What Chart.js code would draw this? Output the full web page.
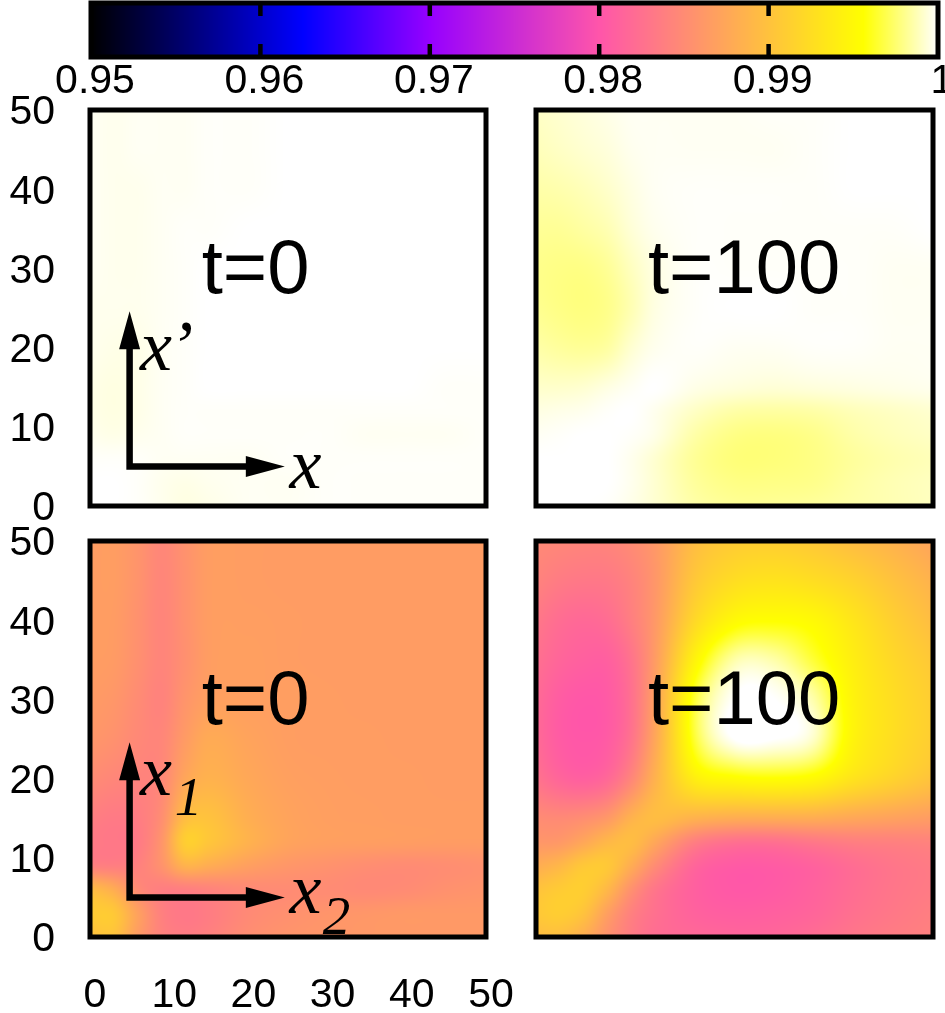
<!DOCTYPE html>
<html lang="en">
<head>
<meta charset="UTF-8">
<title>Fidelity maps at t=0 and t=100</title>
<script src="https://cdn.jsdelivr.net/npm/chart.js"></script>
<style>
    html, body { margin: 0; padding: 0; background: #fff; overflow: hidden; }
    body { width: 945px; height: 1013px; position: relative; }
    canvas { position: absolute; }
</style>
</head>
<body>
<canvas id="colorbar"></canvas>
<canvas id="panelTopLeft"></canvas>
<canvas id="panelTopRight"></canvas>
<canvas id="panelBottomLeft"></canvas>
<canvas id="panelBottomRight"></canvas>
<script>
// colour scale
const paletteValues = [0.95, 0.9625, 0.97, 0.98, 0.9956, 1];
const paletteColors = [[0, 0, 0], [0, 0, 255], [150, 0, 255], [255, 85, 170], [255, 255, 0], [255, 255, 255]];
const colorbarTicks = [0.95, 0.96, 0.97, 0.98, 0.99, 1];
const colorbarLabels = ['0.95', '0.96', '0.97', '0.98', '0.99', '1'];

// axes of the maps
const axisTicks = [0, 10, 20, 30, 40, 50];
const gridColumns = [0, 3, 6, 9, 12, 15, 20, 25, 30, 35, 40, 45, 50];
const gridRows = [50, 45, 40, 35, 30, 25, 20, 15, 12, 9, 6, 3, 0];

// values, one row per gridRows entry
const topT0 = [
    [0.9998, 0.9997, 0.9998, 0.9998, 0.9998, 0.9999, 0.9999, 1, 1, 1, 1, 1, 1],
    [0.9998, 0.9997, 0.9998, 0.9998, 0.9998, 0.9999, 0.9999, 1, 1, 1, 1, 1, 1],
    [0.9998, 0.9997, 0.9997, 0.9998, 0.9998, 0.9999, 0.9999, 1, 1, 1, 1, 1, 1],
    [0.9998, 0.9997, 0.9997, 0.9998, 0.9999, 0.9999, 1, 1, 1, 1, 1, 1, 1],
    [0.9998, 0.9997, 0.9997, 0.9998, 0.9999, 1, 1, 1, 1, 1, 1, 1, 1],
    [0.9997, 0.9997, 0.9997, 0.9998, 0.9999, 1, 1, 1, 1, 1, 1, 1, 1],
    [0.9997, 0.9996, 0.9996, 0.9998, 0.9999, 1, 1, 1, 1, 1, 1, 1, 1],
    [0.9996, 0.9995, 0.9996, 0.9998, 0.9999, 1, 1, 1, 1, 1, 1, 0.9999, 0.9999],
    [0.9996, 0.9995, 0.9996, 0.9998, 0.9999, 0.9999, 0.9999, 0.9999, 0.9999, 0.9999, 0.9999, 0.9999, 0.9999],
    [0.9997, 0.9996, 0.9997, 0.9998, 0.9999, 0.9999, 0.9999, 0.9999, 0.9999, 0.9998, 0.9998, 0.9998, 0.9999],
    [0.9999, 0.9999, 0.9999, 0.9998, 0.9998, 0.9998, 0.9998, 0.9999, 0.9999, 0.9999, 0.9999, 0.9999, 0.9999],
    [1, 1, 0.9999, 0.9997, 0.9996, 0.9997, 0.9998, 0.9998, 0.9999, 0.9999, 0.9999, 0.9999, 0.9999],
    [1, 1, 0.9999, 0.9997, 0.9995, 0.9996, 0.9998, 0.9998, 0.9999, 0.9999, 0.9999, 0.9999, 0.9999]
];
const topT100 = [
    [0.9990, 0.9992, 0.9994, 0.9996, 0.9998, 0.9998, 0.9998, 0.9998, 0.9999, 0.9999, 1, 1, 1],
    [0.9988, 0.9990, 0.9992, 0.9994, 0.9997, 0.9998, 0.9998, 0.9998, 0.9998, 0.9999, 1, 1, 1],
    [0.9985, 0.9986, 0.9988, 0.9991, 0.9995, 0.9998, 0.9999, 0.9999, 0.9999, 0.9999, 1, 1, 1],
    [0.9982, 0.9982, 0.9984, 0.9987, 0.9993, 0.9997, 0.9999, 0.9999, 0.9999, 0.9999, 0.9999, 0.9999, 1],
    [0.9980, 0.9979, 0.9979, 0.9982, 0.9989, 0.9995, 0.9999, 0.9999, 0.9999, 0.9999, 0.9999, 0.9998, 0.9998],
    [0.9981, 0.9979, 0.9978, 0.9980, 0.9987, 0.9995, 0.9999, 1, 1, 0.9999, 0.9999, 0.9998, 0.9998],
    [0.9985, 0.9983, 0.9982, 0.9984, 0.9992, 0.9997, 0.9999, 0.9998, 0.9998, 0.9999, 0.9999, 0.9998, 0.9998],
    [0.9991, 0.9991, 0.9992, 0.9995, 0.9998, 1, 0.9996, 0.9994, 0.9993, 0.9994, 0.9995, 0.9996, 0.9997],
    [0.9995, 0.9996, 0.9997, 0.9999, 1, 0.9997, 0.9990, 0.9985, 0.9984, 0.9985, 0.9988, 0.9990, 0.9992],
    [0.9998, 0.9999, 1, 1, 0.9999, 0.9996, 0.9985, 0.9979, 0.9978, 0.9980, 0.9985, 0.9988, 0.9990],
    [1, 1, 1, 1, 0.9997, 0.9992, 0.9982, 0.9977, 0.9977, 0.9979, 0.9983, 0.9986, 0.9988],
    [1, 1, 1, 1, 0.9997, 0.9992, 0.9983, 0.9979, 0.9979, 0.9980, 0.9984, 0.9987, 0.9989],
    [1, 1, 1, 0.9999, 0.9996, 0.9992, 0.9985, 0.9982, 0.9982, 0.9983, 0.9985, 0.9987, 0.9989]
];
const bottomT0 = [
    [0.9866, 0.9866, 0.9858, 0.9846, 0.9856, 0.9866, 0.9866, 0.9865, 0.9865, 0.9865, 0.9865, 0.9865, 0.9865],
    [0.9866, 0.9866, 0.9857, 0.9845, 0.9855, 0.9866, 0.9866, 0.9865, 0.9865, 0.9865, 0.9865, 0.9865, 0.9865],
    [0.9866, 0.9865, 0.9855, 0.9844, 0.9855, 0.9866, 0.9867, 0.9866, 0.9865, 0.9865, 0.9865, 0.9865, 0.9865],
    [0.9866, 0.9864, 0.9854, 0.9844, 0.9854, 0.9866, 0.9868, 0.9866, 0.9865, 0.9865, 0.9865, 0.9865, 0.9865],
    [0.9864, 0.9860, 0.9850, 0.9842, 0.9858, 0.9868, 0.9868, 0.9867, 0.9866, 0.9865, 0.9865, 0.9865, 0.9865],
    [0.9860, 0.9855, 0.9847, 0.9845, 0.9864, 0.9878, 0.9872, 0.9867, 0.9866, 0.9866, 0.9865, 0.9865, 0.9865],
    [0.9850, 0.9845, 0.9842, 0.9846, 0.9874, 0.9885, 0.9876, 0.9869, 0.9867, 0.9866, 0.9866, 0.9865, 0.9865],
    [0.9838, 0.9834, 0.9836, 0.9852, 0.9895, 0.9900, 0.9882, 0.9872, 0.9868, 0.9867, 0.9866, 0.9866, 0.9866],
    [0.9834, 0.9832, 0.9834, 0.9858, 0.9910, 0.9903, 0.9885, 0.9872, 0.9868, 0.9867, 0.9866, 0.9865, 0.9865],
    [0.9840, 0.9838, 0.9840, 0.9856, 0.9885, 0.9880, 0.9868, 0.9860, 0.9856, 0.9852, 0.9850, 0.9852, 0.9855],
    [0.9895, 0.9880, 0.9850, 0.9838, 0.9838, 0.9842, 0.9848, 0.9850, 0.9850, 0.9848, 0.9850, 0.9855, 0.9858],
    [0.9908, 0.9905, 0.9870, 0.9840, 0.9832, 0.9836, 0.9848, 0.9854, 0.9858, 0.9860, 0.9862, 0.9862, 0.9862],
    [0.9898, 0.9900, 0.9865, 0.9842, 0.9836, 0.9840, 0.9852, 0.9858, 0.9860, 0.9862, 0.9862, 0.9862, 0.9862]
];
const bottomT100 = [
    [0.9848, 0.9846, 0.9844, 0.9844, 0.9850, 0.9862, 0.9895, 0.9908, 0.9910, 0.9905, 0.9895, 0.9885, 0.9872],
    [0.9842, 0.9835, 0.9832, 0.9833, 0.9842, 0.9860, 0.9905, 0.9925, 0.9930, 0.9925, 0.9915, 0.9900, 0.9885],
    [0.9832, 0.9822, 0.9818, 0.9822, 0.9838, 0.9862, 0.9920, 0.9950, 0.9955, 0.9950, 0.9932, 0.9912, 0.9895],
    [0.9825, 0.9815, 0.9810, 0.9810, 0.9828, 0.9865, 0.9945, 0.9985, 0.9985, 0.9965, 0.9940, 0.9920, 0.9905],
    [0.9820, 0.9807, 0.9802, 0.9805, 0.9825, 0.9870, 0.9965, 1, 1, 0.9985, 0.9945, 0.9925, 0.9910],
    [0.9820, 0.9806, 0.9802, 0.9806, 0.9828, 0.9875, 0.9965, 1, 1, 0.9990, 0.9945, 0.9925, 0.9910],
    [0.9828, 0.9815, 0.9810, 0.9818, 0.9845, 0.9885, 0.9940, 0.9952, 0.9955, 0.9950, 0.9930, 0.9915, 0.9900],
    [0.9850, 0.9848, 0.9852, 0.9862, 0.9885, 0.9895, 0.9885, 0.9880, 0.9880, 0.9880, 0.9875, 0.9870, 0.9865],
    [0.9860, 0.9862, 0.9875, 0.9890, 0.9895, 0.9875, 0.9838, 0.9825, 0.9825, 0.9832, 0.9838, 0.9840, 0.9842],
    [0.9880, 0.9890, 0.9905, 0.9905, 0.9880, 0.9850, 0.9815, 0.9805, 0.9806, 0.9812, 0.9822, 0.9830, 0.9835],
    [0.9900, 0.9908, 0.9910, 0.9890, 0.9855, 0.9830, 0.9810, 0.9803, 0.9805, 0.9812, 0.9822, 0.9830, 0.9835],
    [0.9905, 0.9910, 0.9900, 0.9868, 0.9840, 0.9825, 0.9812, 0.9808, 0.9810, 0.9815, 0.9825, 0.9832, 0.9838],
    [0.9895, 0.9895, 0.9880, 0.9855, 0.9835, 0.9822, 0.9818, 0.9815, 0.9816, 0.9822, 0.9830, 0.9836, 0.9840]
];

// annotations, in axis units
const arrowOrigin = [5, 5];
const arrowTip = [24.6, 24.6];
const timeLabelAnchor = [14.1, 26.9];
const topAxisLabels = [['x', 25.2, 2.3, 72], ['x', 6.3, 17.2, 72], ['\u2019', 10, 17.2, 72]];
const bottomAxisLabels = [['x', 25.2, 3, 72], ['2', 29.4, 0.4, 55], ['x', 6.3, 17.9, 72], ['1', 10.7, 15.4, 55]];

const sansFont = '"Liberation Sans", Arial, sans-serif';
const serifFont = '"Liberation Serif", "Times New Roman", serif';
const tickFontSize = 41;
const frameWidth = 5;
const axisGutter = 90;

function valueToColor(v) {
    let i = 0;
    while (i < paletteValues.length - 2 && v > paletteValues[i + 1]) i++;
    const f = Math.min(1, Math.max(0, (v - paletteValues[i]) / (paletteValues[i + 1] - paletteValues[i])));
    return paletteColors[i].map((c, k) => c + (paletteColors[i + 1][k] - c) * f);
}

// smooth the map between grid nodes, same idea as gnuplot's pm3d interpolate
function hermite(xs, ys, t) {
    let i = 0;
    while (i < xs.length - 2 && t > xs[i + 1]) i++;
    const h = xs[i + 1] - xs[i];
    const s = (t - xs[i]) / h;
    const slope = j => {
        const a = Math.max(0, j - 1), b = Math.min(xs.length - 1, j + 1);
        return (ys[b] - ys[a]) / (xs[b] - xs[a]);
    };
    const s2 = s * s, s3 = s2 * s;
    return (2 * s3 - 3 * s2 + 1) * ys[i] + (s3 - 2 * s2 + s) * h * slope(i) +
        (-2 * s3 + 3 * s2) * ys[i + 1] + (s3 - s2) * h * slope(i + 1);
}

const fieldPlugin = {
    id: 'field',
    beforeDatasetsDraw(chart) {
        const { ctx, chartArea: a, scales: { x, y } } = chart;
        const w = Math.round(a.right - a.left), h = Math.round(a.bottom - a.top);
        const img = ctx.createImageData(w, h);
        const grid = chart.options.plugins.field.grid;
        const ys = gridRows.slice().reverse();
        const rows = grid.slice().reverse();
        for (let px = 0; px < w; px++) {
            const xv = x.getValueForPixel(a.left + px + 0.5);
            const col = rows.map(r => hermite(gridColumns, r, xv));
            for (let py = 0; py < h; py++) {
                const yv = y.getValueForPixel(a.top + py + 0.5);
                const c = valueToColor(hermite(ys, col, yv));
                const o = (py * w + px) * 4;
                img.data[o] = c[0]; img.data[o + 1] = c[1]; img.data[o + 2] = c[2]; img.data[o + 3] = 255;
            }
        }
        ctx.putImageData(img, Math.round(a.left), Math.round(a.top));
    },
    afterDatasetsDraw(chart) {
        const { ctx, chartArea: a, scales: { x, y } } = chart;
        const o = chart.options.plugins.field;
        ctx.save();
        ctx.strokeStyle = '#000';
        ctx.lineWidth = frameWidth;
        ctx.strokeRect(a.left, a.top, a.right - a.left, a.bottom - a.top);
        ctx.fillStyle = '#000';
        ctx.textBaseline = 'alphabetic';
        ctx.textAlign = 'left';
        ctx.font = '76px ' + sansFont;
        ctx.fillText(o.timeLabel, x.getPixelForValue(timeLabelAnchor[0]), y.getPixelForValue(timeLabelAnchor[1]));
        if (o.axisLabels) {
            const ox = x.getPixelForValue(arrowOrigin[0]), oy = y.getPixelForValue(arrowOrigin[1]);
            const tx = x.getPixelForValue(arrowTip[0]), ty = y.getPixelForValue(arrowTip[1]);
            ctx.lineWidth = 6.5;
            ctx.lineJoin = 'miter';
            ctx.beginPath();
            ctx.moveTo(ox, ty + 30);
            ctx.lineTo(ox, oy);
            ctx.lineTo(tx - 30, oy);
            ctx.stroke();
            ctx.beginPath();
            ctx.moveTo(ox, ty); ctx.lineTo(ox + 10.5, ty + 38); ctx.lineTo(ox - 10.5, ty + 38); ctx.closePath();
            ctx.moveTo(tx, oy); ctx.lineTo(tx - 39, oy + 10.5); ctx.lineTo(tx - 39, oy - 10.5); ctx.closePath();
            ctx.fill();
            o.axisLabels.forEach(([text, lx, ly, size]) => {
                ctx.font = 'italic ' + size + 'px ' + serifFont;
                ctx.fillText(text, x.getPixelForValue(lx), y.getPixelForValue(ly));
            });
        }
        ctx.restore();
    }
};

const colorbarPlugin = {
    id: 'colorbarFill',
    beforeDatasetsDraw(chart) {
        const { ctx, chartArea: a, scales: { x } } = chart;
        for (let px = Math.round(a.left); px < a.right; px++) {
            const c = valueToColor(x.getValueForPixel(px + 0.5));
            ctx.fillStyle = 'rgb(' + c.map(Math.round).join(',') + ')';
            ctx.fillRect(px, a.top, 1, a.bottom - a.top);
        }
    },
    afterDatasetsDraw(chart) {
        const { ctx, chartArea: a, scales: { x } } = chart;
        ctx.save();
        ctx.fillStyle = '#000';
        colorbarTicks.slice(1, -1).forEach(t => {
            const px = x.getPixelForValue(t);
            ctx.fillRect(px - 2.25, a.top, 4.5, 13);
            ctx.fillRect(px - 2.25, a.bottom - 13, 4.5, 13);
        });
        ctx.strokeStyle = '#000';
        ctx.lineWidth = frameWidth;
        ctx.strokeRect(a.left, a.top, a.right - a.left, a.bottom - a.top);
        ctx.restore();
    }
};

function makeAxis(tickValues, labels, extra) {
    return Object.assign({
        type: 'linear',
        grid: { display: false, drawTicks: false },
        border: { display: false },
        afterBuildTicks: scale => { scale.ticks = tickValues.map(v => ({ value: v })); },
        ticks: {
            autoSkip: false, maxRotation: 0, minRotation: 0,
            color: '#000',
            font: { family: sansFont, size: tickFontSize },
            callback: (v, i) => labels[i]
        }
    }, extra);
}

function drawPanel(id, grid, timeLabel, plotLeft, plotTop, plotW, plotH, showY, showX, axisLabels) {
    const canvas = document.getElementById(id);
    const padTop = 30, padRight = 30, xAxisHeight = 76;
    const padBottom = showX ? xAxisHeight : 30;
    canvas.width = axisGutter + plotW + padRight;
    canvas.height = padTop + plotH + padBottom;
    canvas.style.left = (plotLeft - axisGutter) + 'px';
    canvas.style.top = (plotTop - padTop) + 'px';
    const nodes = [];
    gridRows.forEach((gy, r) => gridColumns.forEach((gx, c) => nodes.push({ x: gx, y: gy, v: grid[r][c] })));
    const xAxis = makeAxis(axisTicks, axisTicks.map(String), {
        min: 0, max: 50, display: showX,
        afterFit: s => { if (showX) { s.height = xAxisHeight; s.paddingLeft = 0; s.paddingRight = 0; } }
    });
    xAxis.ticks.padding = 34;
    xAxis.ticks.labelOffset = 5;
    const yAxis = makeAxis(axisTicks, axisTicks.map(String), {
        min: 0, max: 50, display: showY,
        afterFit: s => { if (showY) { s.width = axisGutter; s.paddingTop = 0; s.paddingBottom = 0; } }
    });
    yAxis.ticks.padding = 35;
    yAxis.ticks.labelOffset = 3;
    return new Chart(canvas, {
        type: 'scatter',
        data: { datasets: [{ data: nodes, pointRadius: 0 }] },
        plugins: [fieldPlugin],
        options: {
            responsive: false,
            animation: false,
            layout: { padding: { left: showY ? 0 : axisGutter, right: padRight, top: padTop, bottom: showX ? 0 : padBottom } },
            scales: { x: xAxis, y: yAxis },
            plugins: {
                legend: { display: false },
                tooltip: { enabled: false },
                field: { grid, timeLabel, axisLabels }
            }
        }
    });
}

function drawColorbar() {
    const canvas = document.getElementById('colorbar');
    canvas.width = 945;
    canvas.height = 105;
    canvas.style.left = '0px';
    canvas.style.top = '0px';
    const xAxis = makeAxis(colorbarTicks, colorbarLabels, {
        min: 0.95, max: 1,
        afterFit: s => { s.height = 48; s.paddingLeft = 0; s.paddingRight = 0; }
    });
    xAxis.ticks.padding = 0;
    xAxis.ticks.labelOffset = 4;
    return new Chart(canvas, {
        type: 'scatter',
        data: { datasets: [{ data: colorbarTicks.map(v => ({ x: v, y: 0 })), pointRadius: 0 }] },
        plugins: [colorbarPlugin],
        options: {
            responsive: false,
            animation: false,
            layout: { padding: { left: 91, right: 7, top: 3, bottom: 0 } },
            scales: { x: xAxis, y: { display: false, min: -1, max: 1 } },
            plugins: { legend: { display: false }, tooltip: { enabled: false } }
        }
    });
}

drawColorbar();
drawPanel('panelTopLeft', topT0, 't=0', 90, 110, 396, 396, true, false, topAxisLabels);
drawPanel('panelTopRight', topT100, 't=100', 536, 110, 397, 396, false, false, null);
drawPanel('panelBottomLeft', bottomT0, 't=0', 90, 541, 396, 396, true, true, bottomAxisLabels);
drawPanel('panelBottomRight', bottomT100, 't=100', 536, 541, 397, 396, false, false, null);
</script>
</body>
</html>
